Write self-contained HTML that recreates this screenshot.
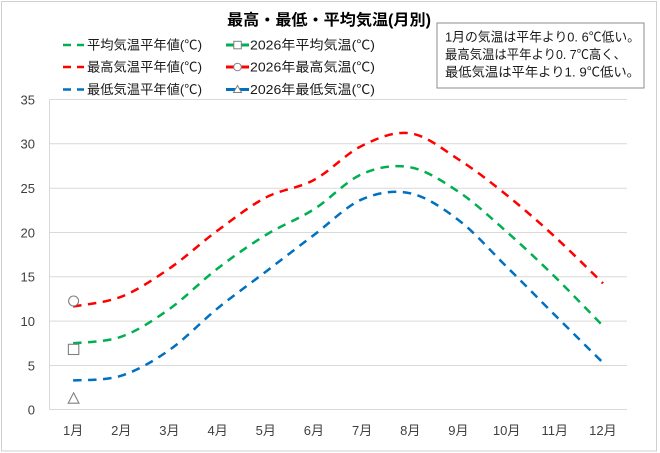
<!DOCTYPE html>
<html><head><meta charset="utf-8">
<style>
html,body{margin:0;padding:0;background:#fff;}
svg{display:block;}
text{font-family:"Liberation Sans","Noto Sans CJK JP",sans-serif;}
</style></head>
<body>
<svg id="c" width="660" height="453" viewBox="0 0 660 453" xmlns="http://www.w3.org/2000/svg">
<rect x="1.5" y="1.5" width="655" height="449.5" fill="#fff" stroke="#d0d0d0" stroke-width="1"/>
<!-- title -->
<text x="329" y="25" font-size="15.5" font-weight="bold" fill="#000" text-anchor="middle" textLength="204" lengthAdjust="spacingAndGlyphs">最高・最低・平均気温(月別)</text>
<!-- gridlines -->
<g stroke="#d9d9d9" stroke-width="1">
<line x1="49.5" y1="99.5" x2="627" y2="99.5"/>
<line x1="49.5" y1="143.8" x2="627" y2="143.8"/>
<line x1="49.5" y1="188.2" x2="627" y2="188.2"/>
<line x1="49.5" y1="232.5" x2="627" y2="232.5"/>
<line x1="49.5" y1="276.8" x2="627" y2="276.8"/>
<line x1="49.5" y1="321.1" x2="627" y2="321.1"/>
<line x1="49.5" y1="365.5" x2="627" y2="365.5"/>
<line x1="49.5" y1="409.5" x2="627" y2="409.5"/>
<line x1="49.5" y1="99.5" x2="49.5" y2="409.5"/>
</g>
<!-- y labels -->
<g font-size="13" fill="#404040" text-anchor="end">
<text x="35" y="104.5">35</text>
<text x="35" y="148.5">30</text>
<text x="35" y="193">25</text>
<text x="35" y="237.3">20</text>
<text x="35" y="281.6">15</text>
<text x="35" y="325.9">10</text>
<text x="35" y="370.3">5</text>
<text x="35" y="414.5">0</text>
</g>
<!-- x labels -->
<g font-size="13" fill="#404040" text-anchor="middle">
<text x="73.1" y="435">1月</text>
<text x="121.3" y="435">2月</text>
<text x="169.4" y="435">3月</text>
<text x="217.6" y="435">4月</text>
<text x="265.8" y="435">5月</text>
<text x="313.9" y="435">6月</text>
<text x="362.1" y="435">7月</text>
<text x="410.3" y="435">8月</text>
<text x="458.4" y="435">9月</text>
<text x="506.6" y="435">10月</text>
<text x="554.8" y="435">11月</text>
<text x="602.9" y="435">12月</text>
</g>
<!-- series -->
<path id="pg" fill="none" stroke="#00b050" stroke-width="2.5" stroke-dasharray="8.5 6.5"/>
<path id="pr" fill="none" stroke="#ff0000" stroke-width="2.5" stroke-dasharray="8.5 6.5"/>
<path id="pb" fill="none" stroke="#0070c0" stroke-width="2.5" stroke-dasharray="8.5 6.5"/>
<!-- markers -->
<g fill="#fff" stroke="#808080" stroke-width="1.1">
<circle cx="73.6" cy="301" r="5"/>
<rect x="68.4" y="344.3" width="10.4" height="10.2"/>
<polygon points="73.6,392.8 79,403.2 68.2,403.2"/>
</g>
<!-- legend -->
<g stroke-width="2.5">
<line x1="63" y1="45" x2="71" y2="45" stroke="#00b050"/>
<line x1="77" y1="45" x2="84" y2="45" stroke="#00b050"/>
<line x1="63" y1="67" x2="71" y2="67" stroke="#ff0000"/>
<line x1="77" y1="67" x2="84" y2="67" stroke="#ff0000"/>
<line x1="63" y1="89.5" x2="71" y2="89.5" stroke="#0070c0"/>
<line x1="77" y1="89.5" x2="84" y2="89.5" stroke="#0070c0"/>
</g>
<g stroke-width="3">
<line x1="226" y1="45" x2="249" y2="45" stroke="#00b050"/>
<line x1="226" y1="67" x2="249" y2="67" stroke="#ff0000"/>
<line x1="226" y1="89.5" x2="249" y2="89.5" stroke="#0070c0"/>
</g>
<g fill="#fff" stroke="#808080" stroke-width="1">
<rect x="233.8" y="41.3" width="7.5" height="7.5"/>
<circle cx="237.5" cy="67" r="3.8"/>
<polygon points="237.5,85.5 241.5,92.5 233.5,92.5"/>
</g>
<g font-size="13" fill="#1a1a1a">
<text x="87" y="49.5" textLength="115" lengthAdjust="spacingAndGlyphs">平均気温平年値(℃)</text>
<text x="87" y="71.5" textLength="115" lengthAdjust="spacingAndGlyphs">最高気温平年値(℃)</text>
<text x="87" y="94" textLength="115" lengthAdjust="spacingAndGlyphs">最低気温平年値(℃)</text>
<text x="250" y="49.5" textLength="125" lengthAdjust="spacingAndGlyphs">2026年平均気温(℃)</text>
<text x="250" y="71.5" textLength="125" lengthAdjust="spacingAndGlyphs">2026年最高気温(℃)</text>
<text x="250" y="94" textLength="125" lengthAdjust="spacingAndGlyphs">2026年最低気温(℃)</text>
</g>
<!-- text box -->
<rect x="437" y="23" width="207" height="65" fill="#fff" stroke="#8c8c8c" stroke-width="1"/>
<g font-size="13" fill="#1a1a1a">
<text x="445" y="41.5" textLength="195" lengthAdjust="spacingAndGlyphs">1月の気温は平年より0. 6℃低い。</text>
<text x="445" y="59" textLength="181" lengthAdjust="spacingAndGlyphs">最高気温は平年より0. 7℃高く、</text>
<text x="445" y="76.5" textLength="195" lengthAdjust="spacingAndGlyphs">最低気温は平年より1. 9℃低い。</text>
</g>
</svg>
<script>
(function(){
var xs=[];for(var i=0;i<12;i++)xs.push(49+(i+0.5)*48.17);
function path(ys){
  var n=ys.length,d="M"+xs[0].toFixed(1)+","+ys[0].toFixed(1);
  function tx(i){return (i==0||i==n-1)?(xs[1]-xs[0])/6:(xs[i+1]-xs[i-1])/6;}
  function ty(i){var a=ys[Math.max(0,i-1)],b=ys[Math.min(n-1,i+1)];return (b-a)/6;}
  for(var i=0;i<n-1;i++){
    var c1x=xs[i]+tx(i),c1y=ys[i]+ty(i),c2x=xs[i+1]-tx(i+1),c2y=ys[i+1]-ty(i+1);
    d+=" C"+c1x.toFixed(1)+","+c1y.toFixed(1)+" "+c2x.toFixed(1)+","+c2y.toFixed(1)+" "+xs[i+1].toFixed(1)+","+ys[i+1].toFixed(1);
  }
  return d;
}
document.getElementById("pr").setAttribute("d",path([306.5,296.7,268.5,230.5,197.5,180,145.7,133.3,159.3,195,236.7,283.3]));
document.getElementById("pg").setAttribute("d",path([343.3,336.7,309,268.5,235,209.3,174,167.3,191.7,231.7,276.7,326]));
document.getElementById("pb").setAttribute("d",path([380.5,375.7,350,308.3,271.7,235,199.3,193.3,220,266.7,315,362.7]));
})();
</script>
</body></html>
